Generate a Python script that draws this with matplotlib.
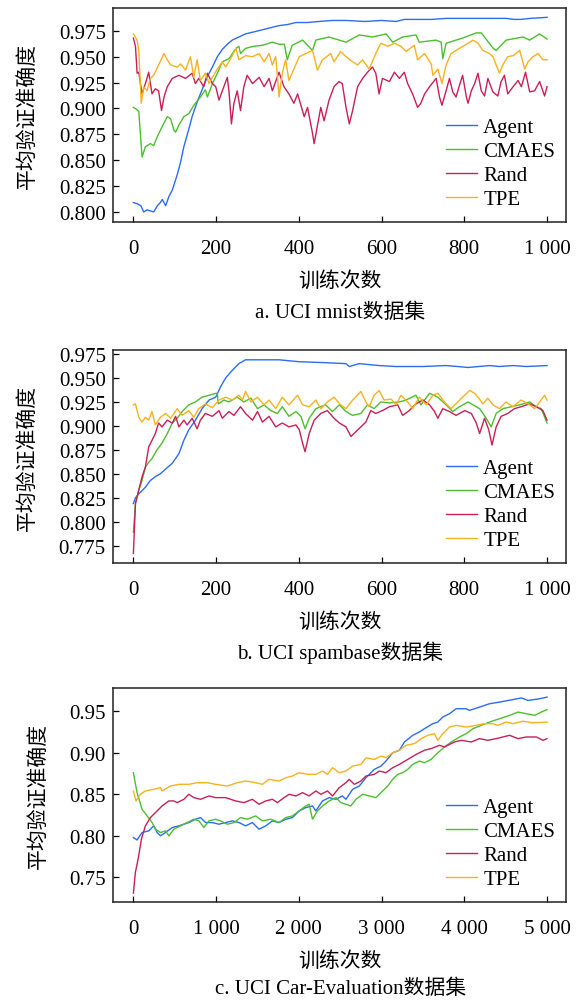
import matplotlib
matplotlib.use("Agg")
import matplotlib.pyplot as plt

plt.rcParams['font.family'] = ['Liberation Serif', 'Noto Sans CJK SC']
plt.rcParams['font.size'] = 15

# ---- a. UCI mnist ----
a_agent_x = [0, 9, 18, 25, 33, 41, 49, 58, 65, 70, 78, 86, 94, 106, 114, 122, 134, 142, 154, 166, 178, 191, 203,
             215, 227, 239, 255, 271, 292, 312, 332, 352, 372, 393, 420, 449, 480, 514, 560, 600, 635, 655, 675,
             720, 756, 800, 850, 901, 920, 936, 960, 1000]
a_agent_y = [0.809, 0.808, 0.806, 0.800, 0.802, 0.801, 0.800, 0.806, 0.809, 0.812, 0.806, 0.815, 0.821, 0.836,
             0.848, 0.863, 0.880, 0.892, 0.906, 0.918, 0.930, 0.940, 0.950, 0.957, 0.962, 0.966, 0.969, 0.972,
             0.974, 0.976, 0.978, 0.980, 0.981, 0.983, 0.983, 0.984, 0.985, 0.985, 0.984, 0.985, 0.984, 0.986,
             0.986, 0.986, 0.987, 0.987, 0.987, 0.987, 0.986, 0.986, 0.987, 0.988]
a_cmaes_x = [0, 8, 13, 17, 21, 29, 41, 49, 57, 69, 82, 90, 98, 102, 110, 122, 134, 146, 162, 174, 179, 191, 203,
             215, 231, 248, 255, 259, 271, 290, 312, 336, 352, 365, 372, 384, 409, 433, 441, 473, 514, 546, 578,
             611, 627, 651, 683, 691, 732, 744, 748, 756, 796, 829, 841, 870, 877, 901, 942, 958, 982, 1000]
a_cmaes_y = [0.901, 0.899, 0.897, 0.875, 0.853, 0.863, 0.866, 0.864, 0.872, 0.882, 0.892, 0.890, 0.879, 0.877,
             0.884, 0.892, 0.895, 0.903, 0.911, 0.918, 0.911, 0.924, 0.934, 0.945, 0.948, 0.958, 0.960, 0.953,
             0.958, 0.960, 0.961, 0.964, 0.962, 0.962, 0.947, 0.961, 0.966, 0.956, 0.966, 0.969, 0.964, 0.971,
             0.969, 0.972, 0.964, 0.969, 0.971, 0.964, 0.966, 0.964, 0.948, 0.963, 0.968, 0.973, 0.973, 0.958,
             0.956, 0.966, 0.969, 0.966, 0.972, 0.967]
a_rand_x = [0, 5, 9, 13, 17, 21, 29, 37, 45, 53, 61, 68, 74, 82, 94, 110, 126, 142, 150, 158, 170, 179, 191, 199,
            207, 215, 227, 231, 237, 243, 251, 259, 267, 275, 288, 304, 316, 328, 336, 352, 364, 376, 388, 397,
            413, 421, 433, 437, 453, 461, 473, 485, 497, 505, 514, 522, 530, 542, 554, 566, 578, 586, 594, 602,
            619, 631, 643, 655, 663, 675, 687, 695, 704, 716, 732, 740, 746, 756, 764, 772, 780, 788, 796, 805,
            809, 817, 825, 833, 841, 849, 857, 869, 881, 889, 897, 905, 918, 930, 938, 948, 958, 970, 982, 994,
            1000]
a_rand_y = [0.968, 0.960, 0.934, 0.935, 0.924, 0.914, 0.924, 0.935, 0.914, 0.919, 0.917, 0.898, 0.911, 0.921,
            0.929, 0.932, 0.929, 0.934, 0.924, 0.929, 0.921, 0.934, 0.924, 0.921, 0.908, 0.917, 0.930, 0.917,
            0.885, 0.905, 0.917, 0.898, 0.921, 0.932, 0.924, 0.930, 0.921, 0.929, 0.917, 0.935, 0.921, 0.914,
            0.905, 0.914, 0.892, 0.901, 0.876, 0.866, 0.901, 0.888, 0.908, 0.921, 0.926, 0.924, 0.901, 0.885,
            0.898, 0.921, 0.929, 0.935, 0.940, 0.934, 0.914, 0.929, 0.926, 0.935, 0.929, 0.935, 0.924, 0.914,
            0.901, 0.905, 0.914, 0.921, 0.929, 0.911, 0.903, 0.917, 0.929, 0.916, 0.911, 0.922, 0.932, 0.911,
            0.905, 0.917, 0.924, 0.934, 0.917, 0.912, 0.929, 0.916, 0.912, 0.926, 0.932, 0.914, 0.921, 0.927,
            0.921, 0.935, 0.916, 0.917, 0.926, 0.912, 0.921]
a_tpe_x = [0, 9, 13, 19, 25, 33, 41, 49, 61, 74, 82, 90, 106, 114, 126, 138, 146, 154, 162, 174, 183, 191, 203,
           215, 223, 235, 248, 255, 271, 288, 304, 316, 328, 336, 344, 348, 352, 360, 368, 376, 388, 401, 417, 433,
           445, 457, 477, 485, 501, 514, 530, 542, 554, 570, 586, 598, 615, 631, 647, 659, 679, 687, 704, 720, 724,
           736, 746, 756, 768, 788, 809, 821, 833, 845, 861, 869, 885, 893, 905, 918, 934, 946, 954, 966, 978,
           990, 1000]
a_tpe_y = [0.972, 0.966, 0.956, 0.905, 0.921, 0.917, 0.929, 0.932, 0.942, 0.953, 0.947, 0.942, 0.940, 0.943,
           0.937, 0.950, 0.930, 0.947, 0.927, 0.934, 0.924, 0.930, 0.938, 0.945, 0.940, 0.948, 0.958, 0.947,
           0.951, 0.950, 0.953, 0.945, 0.953, 0.942, 0.950, 0.932, 0.911, 0.934, 0.947, 0.927, 0.938, 0.950,
           0.953, 0.956, 0.937, 0.947, 0.953, 0.945, 0.955, 0.950, 0.945, 0.942, 0.947, 0.938, 0.953, 0.963,
           0.960, 0.963, 0.960, 0.955, 0.961, 0.947, 0.953, 0.943, 0.932, 0.938, 0.924, 0.942, 0.953, 0.958,
           0.963, 0.966, 0.963, 0.956, 0.953, 0.950, 0.934, 0.942, 0.950, 0.951, 0.956, 0.938, 0.945, 0.950,
           0.953, 0.947, 0.947]

# ---- b. UCI spambase ----
b_agent_x = [0, 5, 13, 29, 41, 53, 65, 78, 94, 110, 122, 134, 150, 166, 183, 199, 211, 223, 239, 255, 271, 304,
             352, 401, 465, 514, 522, 546, 594, 635, 700, 756, 784, 809, 861, 885, 918, 950, 1000]
b_agent_y = [0.819, 0.825, 0.829, 0.836, 0.843, 0.847, 0.850, 0.855, 0.861, 0.871, 0.885, 0.896, 0.906, 0.918,
             0.927, 0.930, 0.941, 0.950, 0.958, 0.965, 0.969, 0.969, 0.969, 0.967, 0.966, 0.965, 0.962, 0.965,
             0.963, 0.962, 0.962, 0.963, 0.962, 0.961, 0.963, 0.962, 0.963, 0.962, 0.963]
b_cmaes_x = [0, 5, 13, 21, 29, 37, 45, 57, 69, 82, 94, 106, 118, 134, 150, 166, 183, 199, 203, 205, 219, 231, 251,
             267, 284, 300, 316, 332, 348, 360, 376, 393, 405, 415, 425, 441, 465, 481, 498, 514, 530, 550, 566,
             582, 598, 619, 643, 659, 683, 695, 716, 736, 756, 772, 788, 809, 821, 837, 853, 865, 877, 893, 914,
             934, 958, 974, 986, 1000]
b_cmaes_y = [0.789, 0.819, 0.833, 0.843, 0.857, 0.862, 0.866, 0.875, 0.882, 0.892, 0.903, 0.908, 0.915, 0.922,
             0.925, 0.930, 0.932, 0.934, 0.934, 0.923, 0.927, 0.925, 0.930, 0.925, 0.929, 0.918, 0.922, 0.916,
             0.913, 0.920, 0.910, 0.915, 0.910, 0.897, 0.908, 0.918, 0.922, 0.915, 0.922, 0.915, 0.911, 0.913,
             0.922, 0.918, 0.925, 0.924, 0.925, 0.927, 0.932, 0.922, 0.934, 0.930, 0.922, 0.915, 0.920, 0.925,
             0.922, 0.918, 0.908, 0.899, 0.913, 0.918, 0.920, 0.922, 0.925, 0.920, 0.918, 0.903]
b_rand_x = [0, 5, 13, 21, 29, 37, 45, 53, 61, 69, 82, 94, 102, 110, 122, 130, 142, 154, 162, 174, 191, 207, 215,
            231, 243, 259, 271, 288, 300, 312, 328, 344, 360, 376, 393, 401, 409, 415, 425, 437, 453, 469, 485,
            498, 514, 526, 538, 550, 562, 574, 586, 602, 619, 639, 651, 667, 683, 700, 716, 728, 736, 748, 764,
            780, 801, 817, 829, 837, 849, 859, 867, 877, 889, 905, 921, 937, 958, 974, 990, 1000]
b_rand_y = [0.767, 0.819, 0.833, 0.847, 0.857, 0.878, 0.885, 0.892, 0.903, 0.899, 0.906, 0.903, 0.910, 0.899,
            0.906, 0.901, 0.908, 0.897, 0.906, 0.913, 0.910, 0.916, 0.908, 0.915, 0.911, 0.920, 0.913, 0.906,
            0.915, 0.904, 0.910, 0.899, 0.903, 0.899, 0.901, 0.896, 0.882, 0.873, 0.892, 0.906, 0.913, 0.916,
            0.908, 0.903, 0.899, 0.889, 0.894, 0.899, 0.904, 0.916, 0.913, 0.916, 0.920, 0.922, 0.911, 0.916,
            0.923, 0.927, 0.922, 0.915, 0.908, 0.918, 0.915, 0.911, 0.916, 0.913, 0.903, 0.892, 0.908, 0.896,
            0.880, 0.899, 0.910, 0.913, 0.918, 0.920, 0.923, 0.920, 0.916, 0.906]
b_tpe_x = [0, 5, 13, 21, 29, 37, 45, 53, 65, 78, 90, 106, 118, 134, 146, 158, 174, 191, 207, 223, 239, 255, 264,
           271, 284, 300, 316, 328, 344, 360, 376, 397, 409, 425, 441, 453, 469, 485, 501, 514, 530, 550, 562,
           570, 582, 594, 606, 623, 635, 647, 663, 675, 691, 708, 724, 736, 752, 768, 784, 796, 813, 825, 835,
           845, 857, 869, 885, 901, 918, 937, 958, 970, 982, 994, 1000]
b_tpe_y = [0.922, 0.923, 0.909, 0.904, 0.909, 0.906, 0.915, 0.901, 0.909, 0.913, 0.908, 0.918, 0.911, 0.916,
           0.909, 0.918, 0.923, 0.919, 0.927, 0.930, 0.927, 0.932, 0.927, 0.936, 0.925, 0.930, 0.922, 0.927,
           0.918, 0.930, 0.922, 0.932, 0.922, 0.920, 0.927, 0.918, 0.925, 0.930, 0.922, 0.918, 0.927, 0.936,
           0.925, 0.920, 0.932, 0.937, 0.927, 0.928, 0.922, 0.932, 0.925, 0.918, 0.930, 0.922, 0.932, 0.934,
           0.925, 0.918, 0.925, 0.930, 0.937, 0.934, 0.929, 0.923, 0.929, 0.922, 0.918, 0.925, 0.920, 0.927,
           0.922, 0.918, 0.925, 0.932, 0.927]

# ---- c. UCI Car-Evaluation ----
c_agent_x = [0, 44, 105, 186, 246, 287, 327, 388, 469, 549, 670, 751, 812, 872, 953, 1034, 1115, 1196, 1276,
             1357, 1438, 1519, 1600, 1680, 1761, 1842, 1923, 2003, 2084, 2165, 2205, 2286, 2367, 2448, 2528,
             2569, 2650, 2731, 2811, 2912, 2993, 3053, 3134, 3215, 3276, 3377, 3457, 3518, 3619, 3680, 3740,
             3821, 3902, 4023, 4063, 4184, 4305, 4426, 4588, 4689, 4770, 4911, 5000]
c_agent_y = [0.798, 0.795, 0.804, 0.806, 0.812, 0.804, 0.800, 0.804, 0.810, 0.812, 0.816, 0.820, 0.822, 0.816,
             0.816, 0.814, 0.816, 0.818, 0.816, 0.812, 0.816, 0.808, 0.812, 0.818, 0.816, 0.820, 0.822, 0.830,
             0.834, 0.836, 0.830, 0.842, 0.846, 0.844, 0.848, 0.844, 0.856, 0.860, 0.870, 0.880, 0.884, 0.890,
             0.900, 0.903, 0.913, 0.921, 0.925, 0.929, 0.935, 0.937, 0.943, 0.947, 0.953, 0.953, 0.951, 0.955,
             0.959, 0.961, 0.964, 0.966, 0.963, 0.965, 0.967]
c_cmaes_x = [0, 44, 105, 166, 226, 267, 327, 388, 428, 489, 569, 650, 731, 792, 852, 913, 993, 1054, 1135, 1216,
             1296, 1377, 1478, 1559, 1660, 1761, 1842, 1923, 2003, 2084, 2124, 2165, 2225, 2286, 2367, 2448, 2508,
             2629, 2690, 2771, 2852, 2932, 3013, 3074, 3134, 3195, 3256, 3316, 3377, 3457, 3518, 3599, 3680,
             3761, 3842, 3943, 4023, 4104, 4205, 4305, 4426, 4547, 4649, 4750, 4851, 4931, 5000]
c_cmaes_y = [0.876, 0.852, 0.832, 0.824, 0.816, 0.808, 0.804, 0.806, 0.800, 0.808, 0.812, 0.816, 0.820, 0.818,
             0.810, 0.818, 0.820, 0.818, 0.814, 0.816, 0.822, 0.820, 0.824, 0.818, 0.820, 0.816, 0.822, 0.824,
             0.830, 0.836, 0.838, 0.820, 0.830, 0.836, 0.842, 0.846, 0.840, 0.836, 0.844, 0.850, 0.848, 0.846,
             0.854, 0.860, 0.868, 0.874, 0.876, 0.880, 0.886, 0.890, 0.888, 0.892, 0.900, 0.907, 0.913, 0.919,
             0.923, 0.929, 0.933, 0.937, 0.941, 0.945, 0.949, 0.947, 0.945, 0.949, 0.952]
c_rand_x = [0, 24, 57, 97, 145, 206, 246, 287, 347, 428, 489, 530, 610, 670, 731, 812, 913, 993, 1115, 1236, 1337,
            1438, 1519, 1600, 1680, 1741, 1821, 1882, 1963, 2044, 2124, 2205, 2266, 2346, 2407, 2488, 2569, 2609,
            2670, 2751, 2811, 2912, 2973, 3053, 3134, 3215, 3316, 3417, 3518, 3599, 3700, 3760, 3882, 3963, 4084,
            4184, 4285, 4386, 4547, 4649, 4750, 4871, 4952, 5000]
c_rand_y = [0.731, 0.756, 0.772, 0.796, 0.812, 0.822, 0.826, 0.830, 0.836, 0.842, 0.842, 0.840, 0.844, 0.850,
            0.846, 0.844, 0.848, 0.846, 0.846, 0.842, 0.840, 0.844, 0.838, 0.842, 0.844, 0.840, 0.846, 0.850,
            0.848, 0.852, 0.848, 0.854, 0.850, 0.854, 0.848, 0.858, 0.864, 0.868, 0.862, 0.866, 0.872, 0.874,
            0.878, 0.876, 0.882, 0.886, 0.892, 0.898, 0.903, 0.905, 0.909, 0.907, 0.913, 0.915, 0.913, 0.917,
            0.915, 0.917, 0.921, 0.917, 0.919, 0.919, 0.915, 0.917]
c_tpe_x = [0, 32, 85, 145, 246, 327, 347, 448, 549, 670, 771, 893, 993, 1135, 1256, 1357, 1478, 1559, 1640, 1761,
           1842, 1923, 2003, 2104, 2205, 2286, 2346, 2407, 2488, 2569, 2650, 2751, 2811, 2912, 2993, 3053, 3134,
           3215, 3296, 3397, 3478, 3559, 3640, 3680, 3740, 3821, 3902, 4023, 4144, 4245, 4346, 4406, 4507, 4588,
           4709, 4831, 5000]
c_tpe_y = [0.854, 0.842, 0.850, 0.854, 0.856, 0.858, 0.854, 0.860, 0.862, 0.862, 0.864, 0.864, 0.862, 0.860,
           0.864, 0.866, 0.864, 0.862, 0.868, 0.866, 0.870, 0.872, 0.876, 0.874, 0.874, 0.878, 0.874, 0.882,
           0.876, 0.878, 0.884, 0.886, 0.894, 0.892, 0.896, 0.894, 0.900, 0.903, 0.909, 0.911, 0.917, 0.921,
           0.923, 0.915, 0.923, 0.931, 0.933, 0.931, 0.933, 0.935, 0.935, 0.933, 0.937, 0.935, 0.938, 0.936,
           0.937]

labels = ['Agent', 'CMAES', 'Rand', 'TPE']
colors = ['#2b6cf2', '#4cbf2e', '#c81f57', '#f6b21f']

a_yticks = [0.800, 0.825, 0.850, 0.875, 0.900, 0.925, 0.950, 0.975]
b_yticks = [0.775, 0.800, 0.825, 0.850, 0.875, 0.900, 0.925, 0.950, 0.975]
c_yticks = [0.75, 0.80, 0.85, 0.90, 0.95]
short_xticks = [0, 200, 400, 600, 800, 1000]
short_xlabels = ['0', '200', '400', '600', '800', '1 000']
long_xticks = [0, 1000, 2000, 3000, 4000, 5000]
long_xlabels = ['0', '1 000', '2 000', '3 000', '4 000', '5 000']

captions = ['a. UCI mnist数据集', 'b. UCI spambase数据集', 'c. UCI Car-Evaluation数据集']

fig = plt.figure(figsize=(5.84, 10.03), dpi=100)
ax_a = fig.add_axes([0.193, 0.7774, 0.777, 0.2136])
ax_b = fig.add_axes([0.193, 0.4374, 0.777, 0.2129])
ax_c = fig.add_axes([0.193, 0.0994, 0.777, 0.2137])

panels = [
    (ax_a, [(a_agent_x, a_agent_y), (a_cmaes_x, a_cmaes_y), (a_rand_x, a_rand_y), (a_tpe_x, a_tpe_y)],
     (-50, 1047), (0.790, 0.997), a_yticks, '{:.3f}', short_xticks, short_xlabels, 0.688),
    (ax_b, [(b_agent_x, b_agent_y), (b_cmaes_x, b_cmaes_y), (b_rand_x, b_rand_y), (b_tpe_x, b_tpe_y)],
     (-50, 1047), (0.7566, 0.9795), b_yticks, '{:.3f}', short_xticks, short_xlabels, 0.349),
    (ax_c, [(c_agent_x, c_agent_y), (c_cmaes_x, c_cmaes_y), (c_rand_x, c_rand_y), (c_tpe_x, c_tpe_y)],
     (-250, 5235), (0.720, 0.978), c_yticks, '{:.2f}', long_xticks, long_xlabels, 0.014),
]

for i, (ax, series, xlim, ylim, yticks, yfmt, xticks, xlabels, cap_y) in enumerate(panels):
    for (xs, ys), lab, col in zip(series, labels, colors):
        ax.plot(xs, ys, color=col, lw=1.0, label=lab)
    ax.set_xlim(*xlim)
    ax.set_ylim(*ylim)
    ax.set_yticks(yticks)
    ax.set_yticklabels([yfmt.format(v) for v in yticks])
    ax.set_xticks(xticks)
    ax.set_xticklabels(xlabels)
    ax.tick_params(direction='in', length=4, width=0.9, labelsize=15, top=False, right=False)
    ax.tick_params(axis='x', pad=12)
    ax.tick_params(axis='y', pad=5)
    for sp in ax.spines.values():
        sp.set_linewidth(1.1)
        sp.set_color('#222222')
    ax.set_xlabel('训练次数', fontsize=15, labelpad=9)
    ax.set_ylabel('平均验证准确度', fontsize=15, labelpad=15)
    ax.legend(loc='lower right', bbox_to_anchor=(0.975, 0.06), frameon=False, fontsize=15,
              handlelength=1.5, handletextpad=0.3, labelspacing=0.22, borderpad=0, borderaxespad=0)
    fig.text(0.583, cap_y, captions[i], ha='center', va='center', fontsize=15)

fig.savefig('out.png', dpi=100)
